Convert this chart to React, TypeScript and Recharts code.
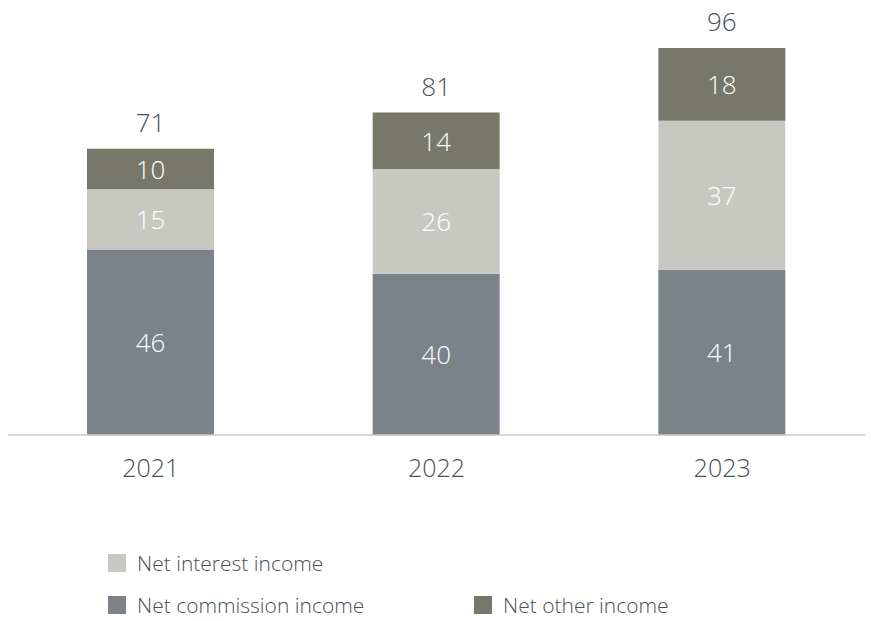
import React from "react";
import { BarChart, Bar, XAxis, YAxis, LabelList } from "recharts";

const years = ["2021", "2022", "2023"];
const commission = [46, 40, 41];
const interest = [15, 26, 37];
const other = [10, 14, 18];
const totals = [71, 81, 96];

const COLORS = {
  commission: "#7b8288",
  interest: "#c8c8c2",
  other: "#777869",
};
const TEXT = "#4a4f55";
const FONT = "'Open Sans', sans-serif";

const data = years.map((year, i) => ({
  year,
  commission: commission[i],
  interest: interest[i],
  other: other[i],
  total: totals[i],
}));

const InnerLabel = (props: any) => {
  const { x, y, width, height, value } = props;
  return (
    <text
      x={x + width / 2}
      y={y + height / 2}
      textAnchor="middle"
      dominantBaseline="central"
      fill="#ffffff"
      fontSize={26}
      fontWeight={300}
      fontFamily={FONT}
    >
      {value}
    </text>
  );
};

const TotalLabel = (props: any) => {
  const { x, y, width, value } = props;
  return (
    <text
      x={x + width / 2}
      y={y - 27}
      textAnchor="middle"
      dominantBaseline="central"
      fill={TEXT}
      fontSize={26}
      fontWeight={300}
      fontFamily={FONT}
    >
      {value}
    </text>
  );
};

const LegendItem = ({ color, label, left, top }: any) => (
  <div style={{ position: "absolute", left, top, display: "flex", alignItems: "center", height: 24 }}>
    <span style={{ width: 18, height: 18, background: color, display: "inline-block" }} />
    <span style={{ marginLeft: 11, fontSize: 21, color: TEXT, fontFamily: FONT, fontWeight: 300, lineHeight: "24px" }}>
      {label}
    </span>
  </div>
);

export default function App() {
  return (
    <div style={{ position: "absolute", left: 0, top: 0, width: 871, height: 621, background: "#fff" }}>
      <BarChart
        width={871}
        height={621}
        data={data}
        margin={{ top: 32, right: 6, left: 8, bottom: 146 }}
        barSize={127}
      >
        <XAxis
          dataKey="year"
          axisLine={{ stroke: "#c8c8c8", strokeWidth: 1.5 }}
          tickLine={false}
          tick={{ fill: TEXT, fontSize: 25, fontFamily: FONT, fontWeight: 300 }}
          tickMargin={18}
          height={40}
        />
        <YAxis hide domain={[0, 100]} />
        <Bar dataKey="commission" stackId="a" fill={COLORS.commission} isAnimationActive={false}>
          <LabelList dataKey="commission" content={<InnerLabel />} />
        </Bar>
        <Bar dataKey="interest" stackId="a" fill={COLORS.interest} isAnimationActive={false}>
          <LabelList dataKey="interest" content={<InnerLabel />} />
        </Bar>
        <Bar dataKey="other" stackId="a" fill={COLORS.other} isAnimationActive={false}>
          <LabelList dataKey="other" content={<InnerLabel />} />
          <LabelList dataKey="total" content={<TotalLabel />} />
        </Bar>
      </BarChart>
      <LegendItem color={COLORS.interest} label="Net interest income" left={108} top={551} />
      <LegendItem color={COLORS.commission} label="Net commission income" left={108} top={593} />
      <LegendItem color={COLORS.other} label="Net other income" left={474} top={593} />
    </div>
  );
}
